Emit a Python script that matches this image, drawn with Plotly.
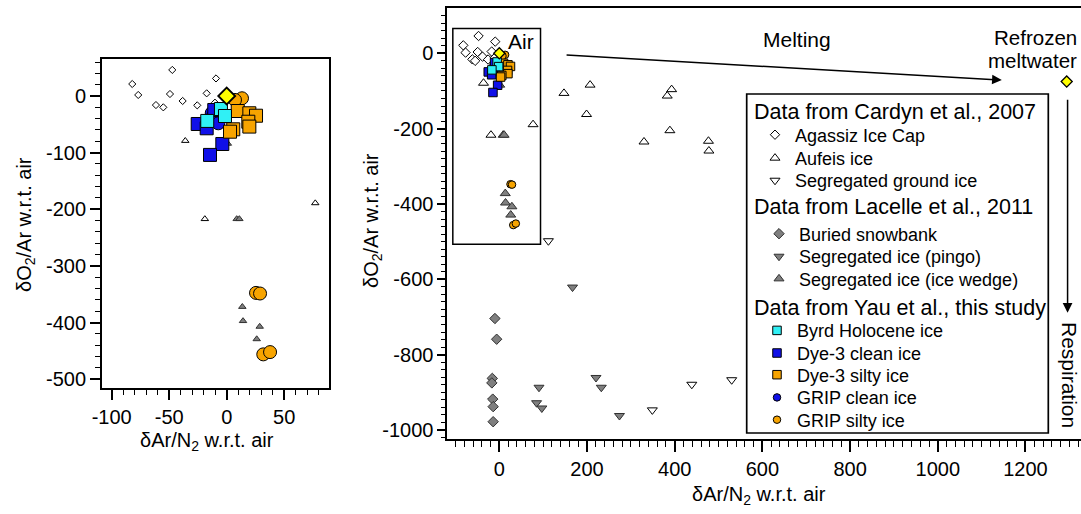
import plotly.graph_objects as go

FONT = "Liberation Sans"
W, H = 1081, 514

# ---------------- data ----------------
agassiz_x = [-82.1, -76.9, -47.3, -61.5, -55.1, -49.3, -38.3, -25.6, -17.4, -9.3, -10.2]
agassiz_y = [21.2, 1.8, 46, -16, -20, 3.5, -8.8, -16.5, 4.7, 31, -11.8]
aufeis_x = [-36, -19, 77, 147.5, 207, 199, 330, 383, 393, 389, 477, 478]
aufeis_y = [-79, -217, -189, -106, -84, -162, -235, -113, -96, -205, -233, -259]
seg_ground_x = [112, 349, 439, 530]
seg_ground_y = [-498, -947, -879, -867]
snowbank_x = [-10, -6, -16, -17, -15, -14, -14]
snowbank_y = [-704, -759, -863, -875, -918, -938, -978]
pingo_x = [167, 90.5, 85, 97, 220.5, 232.6, 274]
pingo_y = [-621, -887, -928, -942, -861, -887, -962]
wedge_x = [8.7, 11, 1, 13.6, 14.2, 28.7, 26.1]
wedge_y = [-217, -217, -84, -372, -397, -407, -429]
grip_clean_x = [-13, -11.7, -7.3]
grip_clean_y = [-30, -35.3, -48.2]
grip_silty_x = [13.3, 7.2, 25.5, 29, 31.8, 37.7]
grip_silty_y = [-4, -7, -347.5, -348.6, -456, -452]
dye3_clean_x = [-10.8, -25.2, -17.4, -3.8, -14.5]
dye3_clean_y = [-24.7, -49.4, -57, -84.7, -104]
dye3_silty_x = [9.6, 19.7, 25.5, 18.8, 19.7, 5.7, 2.9]
dye3_silty_y = [-26.5, -30.5, -34.8, -45.4, -54, -58.8, -63]
byrd_x = [-5, -1.5, -16.9]
byrd_y = [-23, -35.3, -44]
air_x = [0, 1294]          # air reference and refrozen meltwater
air_y = [0, -75]

left_xticks = [-100, -50, 0, 50]
left_xtext = ["-100", "-50", "0", "50"]
left_yticks = [0, -100, -200, -300, -400, -500]
left_ytext = ["0", "-100", "-200", "-300", "-400", "-500"]
right_xticks = [0, 200, 400, 600, 800, 1000, 1200]
right_xtext = ["0", "200", "400", "600", "800", "1000", "1200"]
right_yticks = [0, -200, -400, -600, -800, -1000]
right_ytext = ["0", "-200", "-400", "-600", "-800", "-1000"]

header_texts = ["Data from Cardyn et al., 2007",
                "Data from Lacelle et al., 2011",
                "Data from Yau et al., this study"]

# ---------------- styles ----------------
BLUE = "#1010E8"
ORANGE = "#F7A400"
CYAN = "#30F0F5"
GRAY = "#7F7F7F"

# name, x, y, symbol, fill, outline, size_left, size_right, legend row (px y), group
series = [
    ("Agassiz Ice Cap", agassiz_x, agassiz_y, "diamond", "white", "black", 5.5, 7.2, 135, 0),
    ("Aufeis ice", aufeis_x, aufeis_y, "triangle-up", "white", "black", 6.5, 8.7, 158.3, 0),
    ("Segregated ground ice", seg_ground_x, seg_ground_y, "triangle-down", "white", "black", 6.5, 8.7, 180.7, 0),
    ("Buried snowbank", snowbank_x, snowbank_y, "diamond", GRAY, "#303030", 6, 8, 234, 1),
    ("Segregated ice (pingo)", pingo_x, pingo_y, "triangle-down", GRAY, "#303030", 6.5, 8.7, 256.7, 1),
    ("Segregated ice (ice wedge)", wedge_x, wedge_y, "triangle-up", GRAY, "#303030", 6.5, 8.7, 279, 1),
    ("GRIP clean ice", grip_clean_x, grip_clean_y, "circle", BLUE, "black", 13, 7.5, 397.7, 2),
    ("GRIP silty ice", grip_silty_x, grip_silty_y, "circle", ORANGE, "black", 13, 7.5, 420, 2),
    ("Dye-3 clean ice", dye3_clean_x, dye3_clean_y, "square", BLUE, "black", 13, 8.5, 353.3, 2),
    ("Dye-3 silty ice", dye3_silty_x, dye3_silty_y, "square", ORANGE, "black", 13, 8.5, 375, 2),
    ("Byrd Holocene ice", byrd_x, byrd_y, "square", CYAN, "black", 13, 8.5, 330.7, 2),
]

def px(x):
    return x / W

def py(y):
    return 1 - y / H

fig = go.Figure()
legend_layouts = {}
text_x = [795, 799, 797]
for i, (name, xs, ys, sym, fill, outline, sl, sr, row_y, grp) in enumerate(series):
    lw = 1.0
    fig.add_trace(go.Scatter(
        x=xs, y=ys, mode="markers", xaxis="x", yaxis="y", showlegend=False,
        marker=dict(symbol=sym, size=sl, color=fill, line=dict(color=outline, width=lw)),
        name=name, cliponaxis=True))
    key = "legend" if i == 0 else f"legend{i + 1}"
    fig.add_trace(go.Scatter(
        x=xs, y=ys, mode="markers", xaxis="x2", yaxis="y2", showlegend=True,
        legend=key,
        marker=dict(symbol=sym, size=sr, color=fill, line=dict(color=outline, width=lw)),
        name=name, cliponaxis=True))
    legend_layouts[key] = dict(
        x=px(text_x[grp] - 40), y=py(row_y), xanchor="left", yanchor="middle",
        bgcolor="rgba(0,0,0,0)", borderwidth=0, itemsizing="trace",
        font=dict(family=FONT, size=18, color="black"))

# air / refrozen meltwater (yellow diamonds)
fig.add_trace(go.Scatter(x=air_x, y=air_y, mode="markers", xaxis="x", yaxis="y",
                         showlegend=False,
                         marker=dict(symbol="diamond", size=13, color="#FFFF00",
                                     line=dict(color="black", width=1.8))))
fig.add_trace(go.Scatter(x=air_x, y=air_y, mode="markers", xaxis="x2", yaxis="y2",
                         showlegend=False,
                         marker=dict(symbol="diamond", size=8.5, color="#FFFF00",
                                     line=dict(color="black", width=1.3))))

tickfont = dict(family=FONT, size=20, color="black")
common = dict(showgrid=False, zeroline=False, showline=True, linecolor="black",
              linewidth=1.8, ticks="outside", tickcolor="black", tickwidth=1.5,
              tickfont=tickfont, tickmode="array")

fig.update_layout(
    width=W, height=H, margin=dict(l=0, r=0, t=0, b=0, autoexpand=False),
    paper_bgcolor="white", plot_bgcolor="white",
    font=dict(family=FONT, color="black"),
    xaxis=dict(common, domain=[px(102), px(329.3)], range=[-108.4, 89.2],
               tickvals=left_xticks, ticktext=left_xtext, ticklen=11, mirror=True,
               minor=dict(tick0=0, dtick=10, ticklen=6, ticks="outside",
                          tickcolor="black", tickwidth=1.3),
               anchor="y"),
    yaxis=dict(common, domain=[py(387.5), py(59)], range=[-514.5, 65.3],
               tickvals=left_yticks, ticktext=left_ytext, ticklen=10, mirror=True,
               minor=dict(tick0=0, dtick=20, ticklen=5, ticks="outside",
                          tickcolor="black", tickwidth=1.3),
               anchor="x"),
    xaxis2=dict(common, domain=[px(447.3), 1.0], range=[-118.6, 1326.6],
                tickvals=right_xticks, ticktext=right_xtext, ticklen=11, mirror=True,
                minor=dict(tick0=0, dtick=20, ticklen=6, ticks="outside",
                           tickcolor="black", tickwidth=1.3),
                anchor="y2"),
    yaxis2=dict(common, domain=[py(439), py(8.3)], range=[-1023.9, 119.5],
                tickvals=right_yticks, ticktext=right_ytext, ticklen=8, mirror=False,
                minor=dict(tick0=0, dtick=20, ticklen=4, ticks="outside",
                           tickcolor="black", tickwidth=1.3),
                anchor="x2"),
    **legend_layouts,
)

def label(text, x, y, size=20, xanchor="center", angle=0):
    return dict(text=text, x=px(x), y=py(y), xref="paper", yref="paper",
                xanchor=xanchor, yanchor="middle", showarrow=False, textangle=angle,
                font=dict(family=FONT, size=size, color="black"))

ann = []
# axis titles
ann.append(label("δAr/N<sub>2</sub> w.r.t. air", 207, 441))
ann.append(label("δAr/N<sub>2</sub> w.r.t. air", 759, 495))
ann.append(label("δO<sub>2</sub>/Ar w.r.t. air", 25, 225, angle=-90))
ann.append(label("δO<sub>2</sub>/Ar w.r.t. air", 372, 221, angle=-90))
# legend headers
for t, yy in zip(header_texts, [111.7, 207.3, 307.7]):
    ann.append(label(t, 752, yy, size=21.5, xanchor="left"))
# labels
ann.append(label("Melting", 797, 40, size=21))
ann.append(label("Refrozen", 1079, 38, size=20.5, xanchor="right"))
ann.append(label("meltwater", 1079, 60, size=20.5, xanchor="right"))
ann.append(label("Respiration", 1070, 375, size=21, angle=90))
ann.append(label("Air", 521, 41.7, size=21))
# arrows (data coordinates of the right panel)
ann.append(dict(text="", x=1146, y=-71, ax=150, ay=-4.5, xref="x2", yref="y2",
                axref="x2", ayref="y2", showarrow=True, arrowhead=2, arrowsize=1.3,
                arrowwidth=1.5, arrowcolor="black"))
ann.append(dict(text="", x=1296, y=-689, ax=1296, ay=-119, xref="x2", yref="y2",
                axref="x2", ayref="y2", showarrow=True, arrowhead=2, arrowsize=1.3,
                arrowwidth=1.5, arrowcolor="black"))
fig.update_layout(annotations=ann)

fig.update_layout(shapes=[
    dict(type="rect", xref="x2", yref="y2", x0=-106, x1=94, y0=-507, y1=66,
         line=dict(color="black", width=1.5)),
    dict(type="rect", xref="paper", yref="paper", x0=px(746.7), x1=px(1048.3),
         y0=py(433), y1=py(94), line=dict(color="black", width=1.7), layer="above"),
])

fig.write_html(
    "out.html",
    config={"displayModeBar": False},
    post_script="document.body.style.margin='0';document.body.style.padding='0';"
                "document.documentElement.style.overflow='hidden';",
)
